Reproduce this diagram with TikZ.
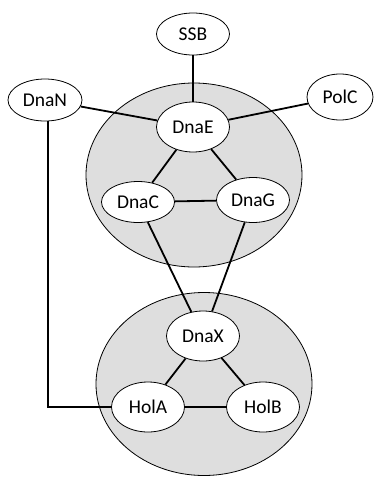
\documentclass[tikz,border=0pt]{standalone}
\usepackage{fontspec}
\setmainfont{Carlito}
\usetikzlibrary{shapes.geometric}
\definecolor{groupgray}{RGB}{222,222,222}
\begin{document}
\begin{tikzpicture}[x=1pt,y=-1pt,
  group/.style={ellipse,draw=black,line width=0.8pt,fill=groupgray,inner sep=0pt},
  prot/.style={ellipse,draw=black,line width=0.8pt,fill=white,inner sep=0pt,
    minimum width=73pt,minimum height=46pt,font=\fontsize{19.5}{21}\selectfont},
  link/.style={line width=1.8pt}]
\useasboundingbox (0,0) rectangle (374,477);
\node[group,minimum width=216pt,minimum height=184pt] (top) at (194,175) {};
\node[group,minimum width=216pt,minimum height=183pt] (bot) at (204,384) {};
\node[prot,minimum height=42pt] (SSB) at (193,34) {SSB};
\node[prot,minimum width=74pt,minimum height=42pt] (DnaN) at (45,100) {DnaN};
\node[prot,minimum width=66pt] (PolC) at (340,97) {PolC};
\node[prot,minimum height=50pt] (DnaE) at (193,127) {DnaE};
\node[prot,minimum height=41pt] (DnaC) at (138,202) {DnaC};
\node[prot,minimum height=45pt] (DnaG) at (253,200) {DnaG};
\node[prot,minimum height=50pt] (DnaX) at (203,336) {DnaX};
\node[prot,minimum height=50pt] (HolA) at (148,407) {HolA};
\node[prot,minimum height=50pt] (HolB) at (263,407) {HolB};
\draw[link] (SSB) -- (DnaE);
\draw[link] (DnaN) -- (DnaE);
\draw[link] (PolC) -- (DnaE);
\draw[link] (DnaE) -- (DnaC);
\draw[link] (DnaE) -- (DnaG);
\draw[link] (DnaC) -- (DnaG);
\draw[link] (DnaC) -- (DnaX);
\draw[link] (DnaG) -- (DnaX);
\draw[link] (DnaX) -- (HolA);
\draw[link] (DnaX) -- (HolB);
\draw[link] (HolA) -- (HolB);
\draw[link] ([xshift=3pt]DnaN.south) |- (HolA);
\end{tikzpicture}
\end{document}
